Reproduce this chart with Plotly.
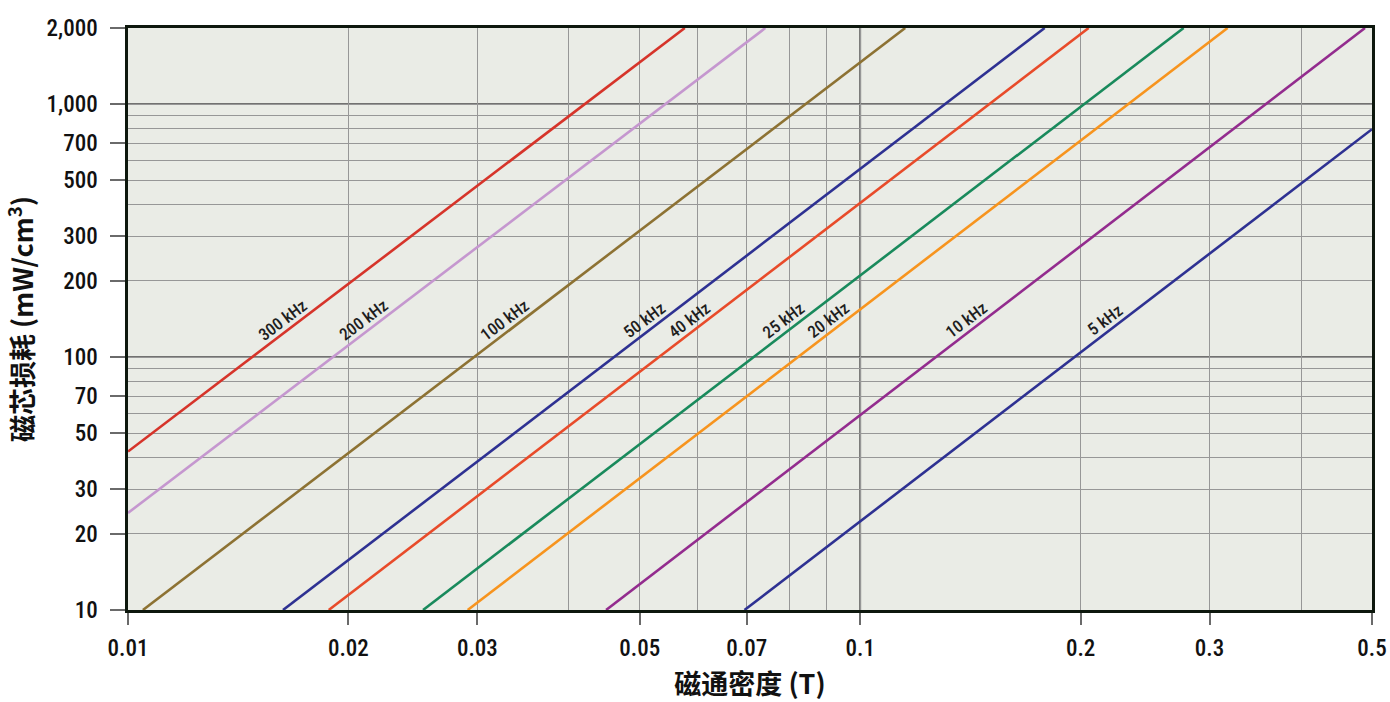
import numpy as np
import plotly.graph_objects as go

# ---- data ----
freq_labels = ["300 kHz", "200 kHz", "100 kHz", "50 kHz", "40 kHz", "25 kHz", "20 kHz", "10 kHz", "5 kHz"]
# endpoints of each straight (log-log) line: flux density (T) and core loss (mW/cm3)
b_start = [0.01, 0.01, 0.01048, 0.01628, 0.01880, 0.02529, 0.02910, 0.04497, 0.0695]
b_end = [0.0576, 0.0742, 0.1152, 0.1786, 0.2051, 0.2765, 0.3175, 0.4891, 0.5]
p_start = [42.3, 24.2, 10, 10, 10, 10, 10, 10, 10]
p_end = [2000, 2000, 2000, 2000, 2000, 2000, 2000, 2000, 796]
line_colors = ["#d6342a", "#c597cf", "#8d7233", "#2e3192", "#e84b2a", "#198a5c", "#f7941e", "#932c8e", "#2e3192"]

x_tickvals = [0.01, 0.02, 0.03, 0.05, 0.07, 0.1, 0.2, 0.3, 0.5]
x_ticktext = ["0.01", "0.02", "0.03", "0.05", "0.07", "0.1", "0.2", "0.3", "0.5"]
x_minor = [0.04, 0.06, 0.08, 0.09, 0.4]
y_tickvals = [10, 20, 30, 50, 70, 100, 200, 300, 500, 700, 1000, 2000]
y_ticktext = ["10", "20", "30", "50", "70", "100", "200", "300", "500", "700", "1,000", "2,000"]
y_minor = [40, 60, 80, 90, 400, 600, 800, 900]

label_level = 140  # core loss level where the frequency labels sit

FONT = "Roboto Condensed, Roboto, Liberation Sans Narrow, sans-serif"
CJK = "Noto Sans CJK SC, Roboto, sans-serif"

fig = go.Figure()
for name, b0, b1, p0, p1, c in zip(freq_labels, b_start, b_end, p_start, p_end, line_colors):
    fig.add_trace(go.Scatter(x=[b0, b1], y=[p0, p1], mode="lines",
                             line=dict(color=c, width=2.6), name=name, showlegend=False,
                             hoverinfo="skip"))
    # label position on the line (log interpolation)
    t = (np.log10(label_level) - np.log10(p0)) / (np.log10(p1) - np.log10(p0))
    bx = 10 ** (np.log10(b0) + t * (np.log10(b1) - np.log10(b0)))
    fig.add_annotation(x=np.log10(bx), y=np.log10(label_level), text=name, showarrow=False,
                       textangle=-37, xshift=-18, yshift=0,
                       font=dict(family=FONT, size=17, color="#1e1e1e", weight=500))

# darker reference grid lines
for xv in [0.1]:
    fig.add_shape(type="line", xref="x", yref="paper", x0=xv, x1=xv, y0=0, y1=1,
                  line=dict(color="#4a4a4a", width=1.8), layer="below")
for yv in [100, 1000]:
    fig.add_shape(type="line", xref="paper", yref="y", x0=0, x1=1, y0=yv, y1=yv,
                  line=dict(color="#4a4a4a", width=1.8), layer="below")

fig.update_xaxes(type="log", range=[np.log10(0.01), np.log10(0.5)], automargin=False,
                 tickmode="array", tickvals=x_tickvals, ticktext=x_ticktext,
                 ticks="outside", ticklen=12, tickwidth=1.5, tickcolor="#6a6a6a",
                 showgrid=True, gridcolor="#979797", gridwidth=1.3,
                 minor=dict(tickmode="array", tickvals=x_minor, showgrid=True,
                            gridcolor="#979797", gridwidth=1.3, ticks=""),
                 showline=True, linecolor="#0d170d", linewidth=2.5, mirror=True,
                 zeroline=False, ticklabelstandoff=4,
                 tickfont=dict(family=FONT, size=23, color="#111111", weight=500),
                 title=dict(text="磁通密度 (T)",
                            font=dict(family=CJK, size=27, color="#111111", weight="bold"),
                            standoff=14))
fig.update_yaxes(type="log", range=[1, np.log10(2000)], automargin=False,
                 tickmode="array", tickvals=y_tickvals, ticktext=y_ticktext,
                 ticks="outside", ticklen=15, tickwidth=1.5, tickcolor="#6a6a6a",
                 showgrid=True, gridcolor="#979797", gridwidth=1.3,
                 minor=dict(tickmode="array", tickvals=y_minor, showgrid=True,
                            gridcolor="#979797", gridwidth=1.3, ticks=""),
                 showline=True, linecolor="#0d170d", linewidth=2.5, mirror=True,
                 zeroline=False, ticklabelstandoff=8,
                 tickfont=dict(family=FONT, size=23, color="#111111", weight=500),
                 title=dict(text="磁芯损耗 (mW/cm<sup>3</sup>)",
                            font=dict(family=CJK, size=27, color="#111111", weight="bold"),
                            standoff=7))

fig.update_layout(width=1390, height=702, margin=dict(l=128, r=18, t=28, b=92),
                  plot_bgcolor="#eaece6", paper_bgcolor="#ffffff")

fig.write_html("out.html", config={"displayModeBar": False},
               post_script="document.body.style.margin='0';document.body.style.overflow='hidden';")
